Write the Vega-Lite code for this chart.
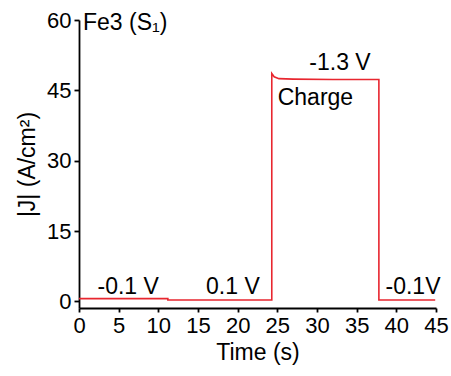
{
  "$schema": "https://vega.github.io/schema/vega-lite/v6.json",
  "width": 357,
  "height": 288,
  "autosize": "none",
  "padding": {"left": 79, "top": 20, "right": 15, "bottom": 68},
  "config": {
    "font": "Liberation Sans",
    "view": {"stroke": null},
    "axis": {"grid": false, "domainColor": "black", "tickColor": "black", "domainWidth": 1.8, "tickWidth": 1.8, "labelColor": "black", "titleColor": "black", "labelFontSize": 22, "titleFontSize": 23, "titleFontWeight": "normal", "labelFont": "Liberation Sans", "titleFont": "Liberation Sans", "labelOverlap": false}
  },
  "encoding": {
    "x": {"field": "t", "type": "quantitative", "scale": {"domain": [0, 45], "nice": false, "zero": false}, "axis": {"title": "Time (s)", "values": [0,5,10,15,20,25,30,35,40,45], "tickSize": 4, "labelPadding": 3, "titlePadding": 5, "labelFlush": false, "labelOverlap": false, "labelBound": false}},
    "y": {"field": "j", "type": "quantitative", "scale": {"domain": [-1.4, 60], "nice": false, "zero": false}, "axis": {"title": "|J| (A/cm²)", "values": [0,15,30,45,60], "tickSize": 5, "labelPadding": 3, "titlePadding": 7, "labelOverlap": false}}
  },
  "layer": [
    {
      "data": {"values": [
        {"t": 0, "j": 0.6}, {"t": 11.2, "j": 0.6}, {"t": 11.2, "j": 0.3}, {"t": 24.3, "j": 0.3},
        {"t": 24.3, "j": 48.6}, {"t": 24.6, "j": 47.9}, {"t": 25.2, "j": 47.5}, {"t": 27, "j": 47.4},
        {"t": 32, "j": 47.3}, {"t": 37.8, "j": 47.3}, {"t": 37.8, "j": 0.3}, {"t": 44.9, "j": 0.3}
      ]},
      "mark": {"type": "line", "color": "#e8262f", "strokeWidth": 1.6},
      "encoding": {
        "order": {"field": "o", "type": "quantitative"}
      }
    },
    {
      "data": {"values": [
        {"t": 6.2, "j": 3.1, "label": "-0.1 V"},
        {"t": 19.4, "j": 3.1, "label": "0.1 V"},
        {"t": 32.9, "j": 50.8, "label": "-1.3 V"},
        {"t": 29.8, "j": 43.3, "label": "Charge"},
        {"t": 42.1, "j": 3.1, "label": "-0.1V"}
      ]},
      "mark": {"type": "text", "fontSize": 23, "align": "center", "baseline": "middle", "color": "black"},
      "encoding": {
        "text": {"field": "label"}
      }
    },
    {
      "data": {"values": [{"t": 0.5, "j": 59.4, "label": "Fe3 (S₁)"}]},
      "mark": {"type": "text", "fontSize": 23, "align": "left", "baseline": "middle", "color": "black"},
      "encoding": {
        "text": {"field": "label"}
      }
    }
  ]
}
